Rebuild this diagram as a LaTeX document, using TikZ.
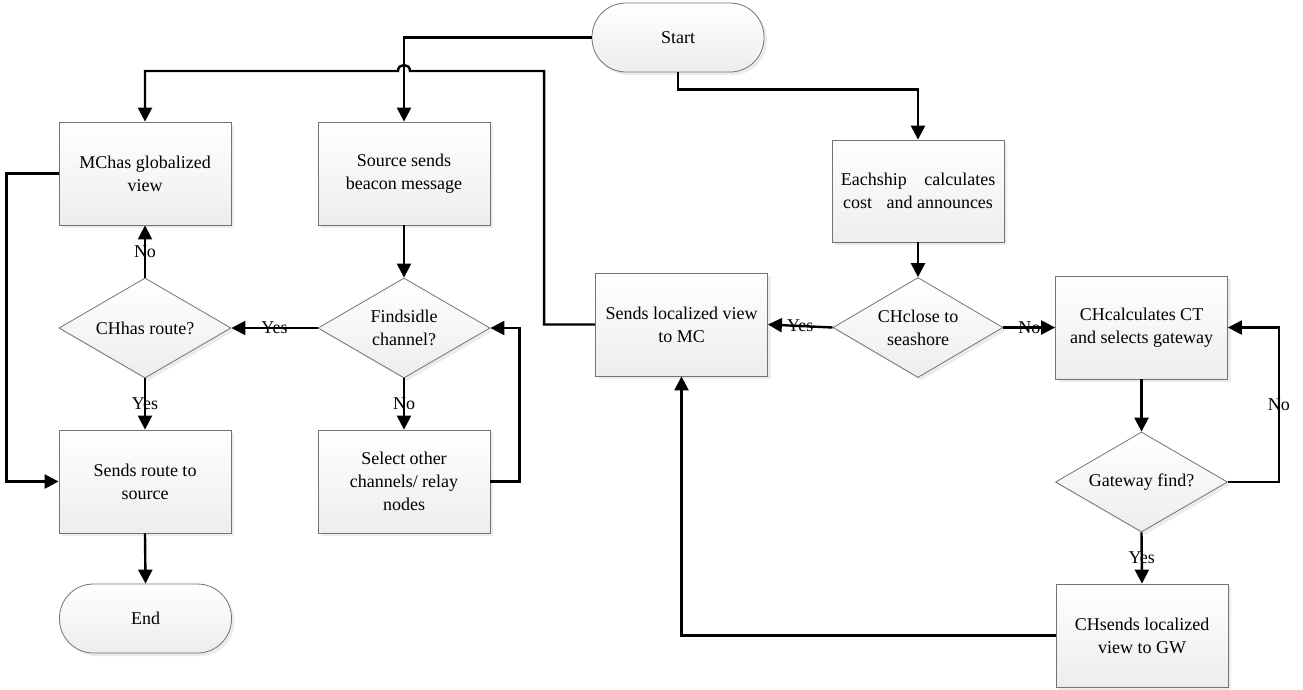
\documentclass[tikz,border=0pt]{standalone}
\usepackage{fontspec}
\setmainfont{Liberation Serif}
\usetikzlibrary{shapes.geometric,arrows.meta,shadows}
\begin{document}
\begin{tikzpicture}[x=1pt, y=-1pt, font=\fontsize{18}{23}\selectfont,
        fillbox/.style = {draw=black!55, line width=0.8pt, top color=white, bottom color=gray!14,
                drop shadow={shadow xshift=3pt, shadow yshift=-3pt, opacity=.25, fill=gray!60}},
        proc/.style = {fillbox, rectangle, minimum width=172pt, minimum height=103pt, align=center},
        dec/.style = {fillbox, diamond, aspect=1.72, minimum width=172pt, minimum height=100pt, inner sep=0pt, align=center},
        term/.style = {fillbox, rectangle, rounded corners=34pt, minimum width=172pt, minimum height=69pt},
        flow/.style = {line width=2.4pt, -{Triangle[length=14pt, width=14pt]}},
        wire/.style = {line width=2.4pt}]
    \useasboundingbox (0,0) rectangle (1303,689);
    % left column
    \node[proc] (MC) at (145,173.5) {MChas globalized\\view};
    \node[dec] (CHr) at (145,328) {CHhas route?};
    \node[proc] (SR) at (145,481.5) {Sends route to\\source};
    \node[term] (End) at (145.5,618.5) {End};
    % middle column
    \node[proc] (Src) at (404,173.5) {Source sends\\beacon message};
    \node[dec] (Fi) at (404,328) {Findsidle\\channel?};
    \node[proc] (Sel) at (404,481.5) {Select other\\channels/ relay\\nodes};
    % right part
    \node[term] (Start) at (678,37.5) {Start};
    \node[proc] (LV) at (681.5,324.5) {Sends localized view\\to MC};
    \node[proc, minimum height=102pt] (Each) at (918,191) {Eachship\hspace{13pt} calculates\\cost\hspace{10pt} and announces};
    \node[dec, minimum width=170pt] (CHc) at (918,327.5) {CHclose to\\seashore};
    \node[proc] (CT) at (1141.5,327.5) {CHcalculates CT\\and selects gateway};
    \node[dec] (GW) at (1141.5,482) {Gateway find?};
    \node[proc] (CHs) at (1142,635.5) {CHsends localized\\view to GW};

    \draw[flow] (Start.west) -| (Src.north);
    \draw[flow] (Start.south) -- ++(0,17) -| (Each.north);
    \draw[flow] (Src.south) -- (Fi.north);
    \draw[flow] (Fi.west) -- node {Yes} (CHr.east);
    \draw[flow] (Fi.south) -- node {No} (Sel.north);
    \draw[flow] (Sel.east) -- ++(29,0) |- (Fi.east);
    \draw[flow] (CHr.north) -- node {No} (MC.south);
    \draw[flow] (CHr.south) -- node {Yes} (SR.north);
    \draw[flow] (MC.west) -- ++(-52,0) |- (SR.west);
    \draw[flow] (SR.south) -- (End.north);
    \draw[flow] (Each.south) -- (CHc.north);
    \draw[flow] (CHc.west) -- node {Yes} (LV.east);
    \draw[flow] (CHc.east) -- node {No} (CT.west);
    \draw[flow] (CT.south) -- (GW.north);
    \draw[flow] (GW.east) -- ++(51,0) |- node[pos=.25] {No} (CT.east);
    \draw[flow] (GW.south) -- node {Yes} (CHs.north);
    \draw[flow] (CHs.west) -| (LV.south);
    % line back to MC, hopping over the start line
    \draw[flow] (LV.west) -- ++(-51,0) |- (410,71)
        .. controls (410,63) and (398,63) .. (398,71) -| (MC.north);
\end{tikzpicture}
\end{document}
